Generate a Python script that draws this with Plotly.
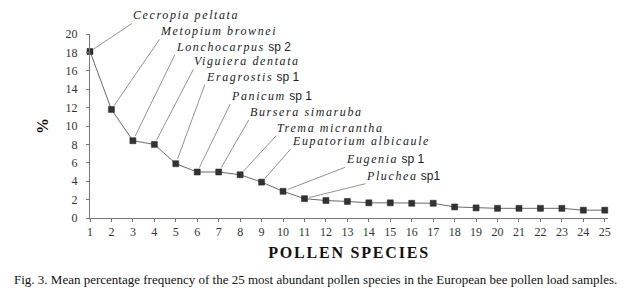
import plotly.graph_objects as go

species_rank = list(range(1, 26))
percent = [18.1, 11.8, 8.4, 8.0, 5.9, 5.0, 5.0, 4.7, 3.9, 2.9, 2.1, 1.9, 1.8, 1.65, 1.65,
           1.6, 1.6, 1.2, 1.1, 1.05, 1.05, 1.05, 1.05, 0.85, 0.85]
names = ["Cecropia peltata", "Metopium brownei", "Lonchocarpus", "Viguiera dentata",
         "Eragrostis", "Panicum", "Bursera simaruba", "Trema micrantha",
         "Eupatorium albicaule", "Eugenia", "Pluchea"]
suffixes = ["", "", " sp 2", "", " sp 1", " sp 1", "", "", "", " sp 1", " sp1"]
y_ticks = list(range(0, 21, 2))
x_title = "POLLEN SPECIES"
y_title = "%"
caption = "Fig. 3. Mean percentage frequency of the 25 most abundant pollen species in the European bee pollen load samples."

# label offsets in pixels (layout only)
offsets = [(42, -28), (48, -70), (42, -86), (39, -75), (29, -79), (33, -68),
           (30, -52), (36, -39), (29, -33), (62, -24), (61, -15)]

serif = "Liberation Serif, Times New Roman, serif"

# page shows the figure with an 8px body offset; margins compensate for it
L, T, R, B = 82, 25.5, 29, 83.5
plot_h = 294 - T - B
plot_w = 629 - L - R

fig = go.Figure()
fig.add_trace(go.Scatter(
    x=species_rank, y=percent, mode="lines+markers",
    line=dict(color="#6a6a6a", width=1),
    marker=dict(symbol="square", size=6, color="#333333", line=dict(color="#222", width=0.5)),
    cliponaxis=False, showlegend=False,
))

for i, name in enumerate(names):
    dx, dy = offsets[i]
    txt = "<span style='letter-spacing:1.6px'><i>" + name + "</i></span>"
    if suffixes[i]:
        txt += "<span style='font-family:Liberation Sans'>" + suffixes[i] + "</span>"
    fig.add_annotation(
        x=species_rank[i], y=percent[i], text=txt,
        showarrow=True, arrowhead=0, arrowwidth=0.8, arrowcolor="#777777",
        ax=dx, ay=dy, xanchor="left", yanchor="bottom", standoff=5,
        borderpad=0,
        font=dict(family=serif, size=12, color="#222222"),
    )

fig.add_annotation(
    x=(307 - L) / plot_w, y=(T + plot_h - 272) / plot_h, xref="paper", yref="paper",
    yanchor="middle", xanchor="center",
    text=caption, showarrow=False,
    font=dict(family=serif, size=13, color="#111111"),
)

fig.update_layout(
    width=629, height=294,
    margin=dict(l=L, r=R, t=T, b=B),
    paper_bgcolor="white", plot_bgcolor="white",
    font=dict(family=serif, size=12, color="#333333"),
    xaxis=dict(
        range=[1, 25.15], tickmode="array", tickvals=species_rank, automargin=False,
        showgrid=False, zeroline=False, showline=True, linecolor="#777777", linewidth=1,
        ticks="outside", ticklen=3, tickcolor="#777777",
        tickfont=dict(family=serif, size=12, color="#333333"),
        title=dict(text="<span style='letter-spacing:1.8px'>" + x_title + "</span>",
                   font=dict(family=serif, size=16, color="#111111", weight="bold"),
                   standoff=8),
    ),
    yaxis=dict(
        range=[0, 20], tickmode="array", tickvals=y_ticks, automargin=False,
        showgrid=False, zeroline=False, showline=True, linecolor="#777777", linewidth=1,
        ticks="outside", ticklen=3, tickcolor="#777777",
        tickfont=dict(family=serif, size=12, color="#333333"),
        ticklabelstandoff=6,
        title=dict(text=y_title, font=dict(family=serif, size=16, color="#111111", weight="bold"),
                   standoff=12),
    ),
)

fig.write_html("out.html")
